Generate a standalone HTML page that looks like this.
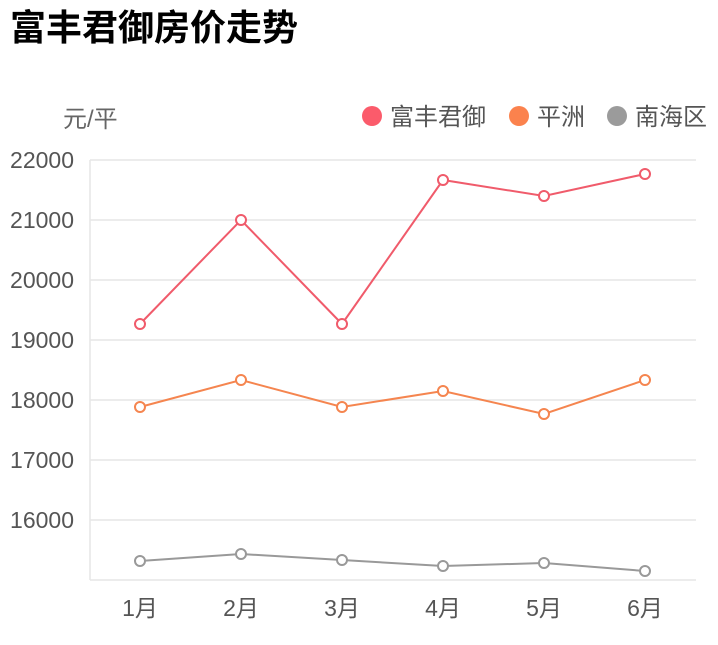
<!DOCTYPE html>
<html><head><meta charset="utf-8"><style>
body{margin:0;background:#fff;width:718px;height:640px;overflow:hidden;font-family:"Liberation Sans","Noto Sans CJK SC",sans-serif}
</style></head><body>
<svg width="718" height="640" xmlns="http://www.w3.org/2000/svg" font-family="Liberation Sans, Noto Sans CJK SC, sans-serif">
<text x="10" y="40" font-size="36" font-weight="bold" fill="#000">富丰君御房价走势</text>
<text x="63" y="127" font-size="24" fill="#666">元/平</text>
<circle cx="372" cy="116" r="10" fill="#fb5b6b"/><text x="390" y="125" font-size="24" fill="#555">富丰君御</text>
<circle cx="519" cy="116" r="10" fill="#fb824d"/><text x="537" y="125" font-size="24" fill="#555">平洲</text>
<circle cx="617" cy="116" r="10" fill="#9b9b9b"/><text x="635" y="125" font-size="24" fill="#555">南海区</text>
<g stroke="#e6e6e6" stroke-width="1.5">
<line x1="90" y1="160" x2="696" y2="160"/><line x1="90" y1="220" x2="696" y2="220"/><line x1="90" y1="280" x2="696" y2="280"/><line x1="90" y1="340" x2="696" y2="340"/><line x1="90" y1="400" x2="696" y2="400"/><line x1="90" y1="460" x2="696" y2="460"/><line x1="90" y1="520" x2="696" y2="520"/>
<line x1="90" y1="580" x2="696" y2="580"/><line x1="90" y1="160" x2="90" y2="580"/>
</g>
<g font-size="23" fill="#555" text-anchor="end">
<text x="74" y="168">22000</text><text x="74" y="228">21000</text><text x="74" y="288">20000</text><text x="74" y="348">19000</text><text x="74" y="408">18000</text><text x="74" y="468">17000</text><text x="74" y="528">16000</text>
</g>
<g font-size="23" fill="#555" text-anchor="middle">
<text x="140" y="616">1月</text><text x="241" y="616">2月</text><text x="342" y="616">3月</text><text x="443" y="616">4月</text><text x="544" y="616">5月</text><text x="645" y="616">6月</text>
</g>
<g fill="#fff" stroke-width="2">
<polyline fill="none" stroke="#f05b6b" points="140,324 241,220 342,324 443,180 544,196 645,174"/>
<g stroke="#f05b6b"><circle cx="140" cy="324" r="5"/><circle cx="241" cy="220" r="5"/><circle cx="342" cy="324" r="5"/><circle cx="443" cy="180" r="5"/><circle cx="544" cy="196" r="5"/><circle cx="645" cy="174" r="5"/></g>
<polyline fill="none" stroke="#f5854f" points="140,407 241,380 342,407 443,391 544,414 645,380"/>
<g stroke="#f5854f"><circle cx="140" cy="407" r="5"/><circle cx="241" cy="380" r="5"/><circle cx="342" cy="407" r="5"/><circle cx="443" cy="391" r="5"/><circle cx="544" cy="414" r="5"/><circle cx="645" cy="380" r="5"/></g>
<polyline fill="none" stroke="#999" points="140,561 241,554 342,560 443,566 544,563 645,571"/>
<g stroke="#999"><circle cx="140" cy="561" r="5"/><circle cx="241" cy="554" r="5"/><circle cx="342" cy="560" r="5"/><circle cx="443" cy="566" r="5"/><circle cx="544" cy="563" r="5"/><circle cx="645" cy="571" r="5"/></g>
</g>
</svg>
</body></html>
